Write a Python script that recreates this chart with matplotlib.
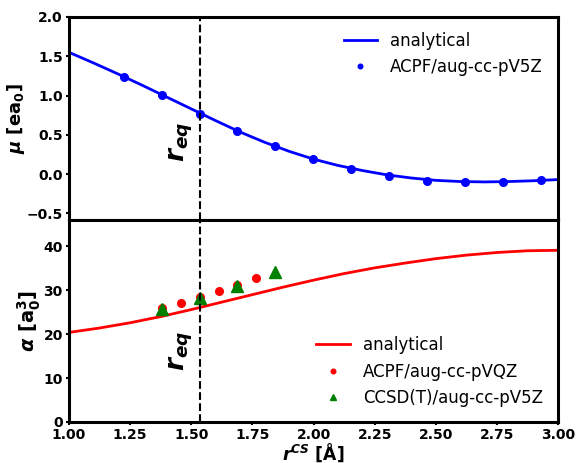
import matplotlib.pyplot as plt

# dipole moment, analytical curve and ACPF/aug-cc-pV5Z points
mu_r = [1.00, 1.10, 1.20, 1.30, 1.40, 1.50, 1.60, 1.70, 1.80, 1.90, 2.00,
        2.10, 2.20, 2.30, 2.40, 2.50, 2.60, 2.70, 2.80, 2.90, 3.00]
mu_fit = [1.55, 1.415, 1.275, 1.13, 0.98, 0.83, 0.68, 0.535, 0.405, 0.29, 0.19,
          0.11, 0.045, -0.01, -0.05, -0.08, -0.095, -0.10, -0.095, -0.085, -0.07]
mu_pts_r = [1.225, 1.380, 1.536, 1.687, 1.843, 1.998, 2.153, 2.309, 2.464, 2.620, 2.775, 2.930]
mu_pts = [1.24, 1.01, 0.77, 0.55, 0.355, 0.19, 0.065, -0.025, -0.085, -0.10, -0.10, -0.077]

# polarizability
al_r = [1.000, 1.125, 1.250, 1.375, 1.500, 1.625, 1.750, 1.875, 2.000,
        2.125, 2.250, 2.375, 2.500, 2.625, 2.750, 2.875, 3.000]
al_fit = [20.4, 21.4, 22.6, 24.0, 25.6, 27.3, 29.0, 30.7, 32.3,
          33.8, 35.1, 36.2, 37.2, 38.0, 38.6, 39.0, 39.1]
acpf_r = [1.380, 1.458, 1.536, 1.612, 1.687, 1.765]
acpf = [26.0, 27.2, 28.5, 29.9, 31.3, 32.7]
ccsd_r = [1.380, 1.536, 1.687, 1.843]
ccsd = [25.8, 28.3, 31.0, 34.2]

r_eq = 1.536

fig = plt.figure(figsize=(5.76, 4.63), dpi=100)
ax1 = fig.add_axes([0.1198, 0.5248, 0.849, 0.4385])
ax2 = fig.add_axes([0.1198, 0.0886, 0.849, 0.4362], sharex=ax1)

ax1.plot(mu_r, mu_fit, color='blue', lw=2, label='analytical')
ax1.plot(mu_pts_r, mu_pts, 'o', color='blue', ms=5.5, label='ACPF/aug-cc-pV5Z')
ax1.axvline(r_eq, color='black', ls='--', lw=1.5)
ax1.text(1.458, 0.41, r'$\mathbfit{r_{eq}}$', rotation=90, fontsize=19,
         ha='center', va='center')
ax1.set_ylim(-0.585, 2.0)
ax1.set_yticks([-0.5, 0.0, 0.5, 1.0, 1.5, 2.0])
ax1.set_ylabel(r'$\mathbfit{\mu}$ [$\mathbf{ea_0}$]', fontsize=13, fontweight='bold')
ax1.yaxis.set_label_coords(-0.085, 0.5)
ax1.tick_params(axis='x', bottom=False, labelbottom=False)
ax1.legend(loc='upper right', frameon=False, fontsize=12, markerscale=0.6)

ax2.plot(al_r, al_fit, color='red', lw=2, label='analytical')
ax2.plot(acpf_r, acpf, 'o', color='red', ms=5.5, label='ACPF/aug-cc-pVQZ')
ax2.plot(ccsd_r, ccsd, '^', color='green', ms=8, label='CCSD(T)/aug-cc-pV5Z')
ax2.axvline(r_eq, color='black', ls='--', lw=1.5)
ax2.text(1.458, 16.2, r'$\mathbfit{r_{eq}}$', rotation=90, fontsize=19,
         ha='center', va='center')
ax2.set_ylim(0, 46)
ax2.set_yticks([0, 10, 20, 30, 40])
ax2.set_xlim(1.0, 3.0)
ax2.set_xticks([1.0, 1.25, 1.5, 1.75, 2.0, 2.25, 2.5, 2.75, 3.0])
ax2.set_xticklabels(['1.00', '1.25', '1.50', '1.75', '2.00', '2.25', '2.50', '2.75', '3.00'])
ax2.set_ylabel(r'$\mathbfit{\alpha}$ [$\mathbf{a_0^3}$]', fontsize=14, fontweight='bold')
ax2.yaxis.set_label_coords(-0.054, 0.5)
ax2.set_xlabel(r'$\mathbfit{r^{CS}}$ [Å]', fontsize=12.5, fontweight='bold')
ax2.xaxis.set_label_coords(0.5, -0.097)
ax2.legend(loc='lower right', frameon=False, fontsize=12, markerscale=0.6)

for ax in (ax1, ax2):
    for s in ax.spines.values():
        s.set_linewidth(2.2)
    ax.tick_params(width=1.5, length=2.5, pad=2, labelsize=10)
    for lab in ax.get_xticklabels() + ax.get_yticklabels():
        lab.set_fontweight('bold')

fig.savefig('out.png', dpi=100)
